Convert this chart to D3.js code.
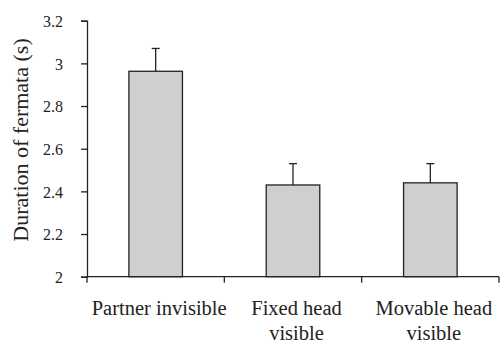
<!DOCTYPE html>
<html>
<head>
<meta charset="utf-8">
<script src="https://cdn.jsdelivr.net/npm/d3@7"></script>
<style>
  body { margin: 0; background: #fff; }
  #chart text { font-family: "Liberation Serif"; }
</style>
</head>
<body>
<svg id="chart" width="500" height="343"></svg>
<script>
// Mean fermata duration per viewing condition, with standard error
const categories = [["Partner invisible"], ["Fixed head", "visible"], ["Movable head", "visible"]];
const means = [2.963, 2.43, 2.44];
const errors = [0.107, 0.10, 0.09];
const yTicks = [2, 2.2, 2.4, 2.6, 2.8, 3, 3.2];

const INK = "#222";
const svg = d3.select("#chart");
const margin = { left: 87, right: 1, top: 20.7, bottom: 66.3 };
const W = 500, H = 343;

// bars sit in the middle of each category slot
const x = d3.scaleBand()
  .domain(d3.range(categories.length))
  .range([margin.left, W - margin.right])
  .paddingInner(0.61).paddingOuter(0.305);

const slot = d3.scaleBand()
  .domain(d3.range(categories.length))
  .range([margin.left, W - margin.right]);

const y = d3.scaleLinear().domain([2, 3.2]).range([H - margin.bottom, margin.top]);

// Y axis
const yAxis = svg.append("g")
  .attr("transform", `translate(${margin.left},0)`)
  .call(d3.axisLeft(y).tickValues(yTicks).tickSize(6).tickPadding(18)
    .tickFormat(d => String(+d.toFixed(1))));
yAxis.attr("font-family", null).attr("font-size", null);
yAxis.select(".domain").attr("stroke", INK).attr("stroke-width", 1.3);
yAxis.selectAll(".tick line").attr("stroke", INK).attr("stroke-width", 1.3);
yAxis.selectAll(".tick text").attr("fill", INK).attr("dy", "0.36em")
  .style("font-family", "Liberation Serif").style("font-size", "16px");

// X axis baseline with ticks between categories
const xBase = H - margin.bottom;
svg.append("line")
  .attr("x1", margin.left).attr("x2", W - margin.right)
  .attr("y1", xBase).attr("y2", xBase)
  .attr("stroke", INK).attr("stroke-width", 1.3);
const bounds = d3.range(categories.length + 1).map(i =>
  i < categories.length ? slot(i) : slot(i - 1) + slot.bandwidth());
svg.selectAll("line.xtick").data(bounds).join("line")
  .attr("class", "xtick")
  .attr("x1", d => d).attr("x2", d => d)
  .attr("y1", xBase).attr("y2", xBase + 6)
  .attr("stroke", INK).attr("stroke-width", 1.3);

// Category labels
const lab = svg.selectAll("text.cat").data(categories).join("text")
  .attr("class", "cat")
  .attr("text-anchor", "middle")
  .style("font-family", "Liberation Serif")
  .style("font-size", "20.5px")
  .attr("fill", INK)
  .attr("transform", (d, i) => `translate(${slot(i) + slot.bandwidth() / 2 + 3.5},${xBase + 38.5})`);
lab.selectAll("tspan").data(d => d).join("tspan")
  .attr("x", 0).attr("dy", (d, i) => i === 0 ? 0 : 25).text(d => d);

// Error bars (upper only)
const bw = x.bandwidth();
const cx = i => x(i) + bw / 2;
svg.selectAll("line.err").data(means).join("line")
  .attr("class", "err")
  .attr("x1", (d, i) => cx(i)).attr("x2", (d, i) => cx(i))
  .attr("y1", d => y(d)).attr("y2", (d, i) => y(d + errors[i]))
  .attr("stroke", INK).attr("stroke-width", 1.3);
svg.selectAll("line.cap").data(means).join("line")
  .attr("class", "cap")
  .attr("x1", (d, i) => cx(i) - 4).attr("x2", (d, i) => cx(i) + 4)
  .attr("y1", (d, i) => y(d + errors[i])).attr("y2", (d, i) => y(d + errors[i]))
  .attr("stroke", INK).attr("stroke-width", 1.3);

// Bars
svg.selectAll("rect.bar").data(means).join("rect")
  .attr("class", "bar")
  .attr("x", (d, i) => x(i)).attr("width", bw)
  .attr("y", d => y(d)).attr("height", d => y(2) - y(d))
  .attr("fill", "#cfcfcf").attr("stroke", INK).attr("stroke-width", 1.3);

// Y title
svg.append("text")
  .attr("transform", `translate(27.5,140) rotate(-90)`)
  .attr("text-anchor", "middle")
  .style("font-family", "Liberation Serif")
  .style("font-size", "22px")
  .attr("fill", INK)
  .text("Duration of fermata (s)");
</script>
</body>
</html>
